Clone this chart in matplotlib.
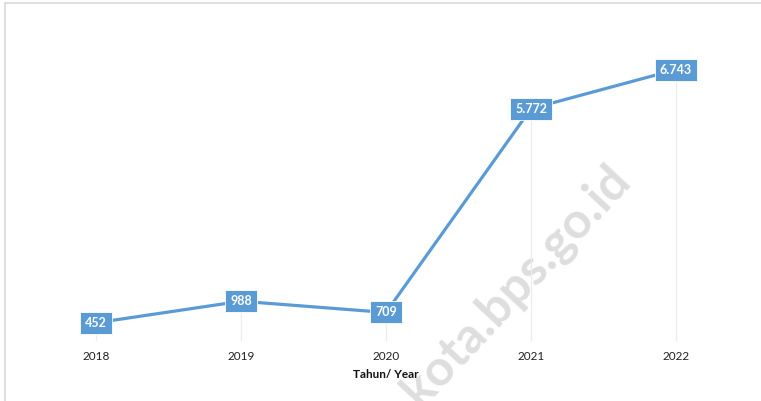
import matplotlib
matplotlib.use("Agg")
import matplotlib.pyplot as plt
from matplotlib.patches import Rectangle

years = [2018, 2019, 2020, 2021, 2022]
values = [452, 988, 709, 5772, 6743]
value_labels = ["452", "988", "709", "5.772", "6.743"]
xlabel = "Tahun/ Year"
watermark = "kota.bps.go.id"

plt.rcParams['font.family'] = ['Lato', 'DejaVu Sans']

W, H = 761, 401
fig = plt.figure(figsize=(W / 100, H / 100), dpi=100)
fig.patch.set_facecolor("white")

# outer frame (only top and left visible)
fig.add_artist(Rectangle((4.5 / W, -0.2), 1.5, 1.2 - 2.5 / H, transform=fig.transFigure,
                         fill=False, edgecolor="#d9d9d9", linewidth=1.2))

ax = fig.add_axes([23.5 / W, 60 / H, 725 / W, 322 / H])
ax.set_xlim(2017.5, 2022.5)
ax.set_ylim(0, 8000)
for s in ax.spines.values():
    s.set_visible(False)
ax.set_yticks([])
ax.set_xticks(years)
ax.set_xticklabels([str(y) for y in years], fontsize=8.5, color="#222222")
ax.tick_params(axis="x", length=0, pad=7)
ax.set_xlabel(xlabel, fontsize=8.5, fontweight="bold", color="#111111", labelpad=5)

# drop lines
ax.vlines(years, 0, values, color="#ececec", linewidth=0.9, zorder=1)

# watermark
ax.text(605 / W, (H - 157) / H, watermark, transform=fig.transFigure, rotation=47,
        ha="right", va="top", rotation_mode="anchor", fontsize=36, fontweight="bold",
        color="#dedede", zorder=0)

ax.plot(years, values, color="#5B9BD5", linewidth=2.3, zorder=3, solid_capstyle="round")

for x, v, lab in zip(years, values, value_labels):
    ax.annotate(lab, (x, v), ha="center", va="center", fontsize=9, fontweight="bold",
                color="white", zorder=5,
                bbox=dict(boxstyle="square,pad=0.4", facecolor="#5B9BD5",
                          edgecolor="#ffffff", linewidth=0.6))

fig.savefig("out.png", dpi=100, facecolor="white")
